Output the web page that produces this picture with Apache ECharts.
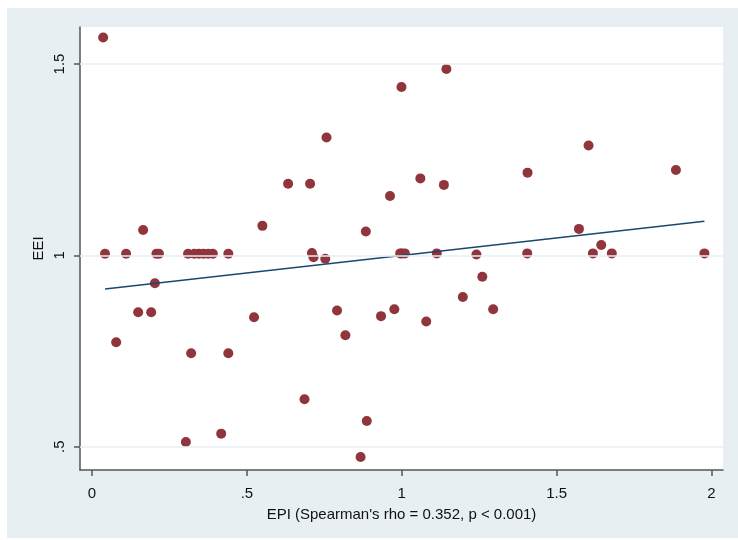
<!DOCTYPE html>
<html>
<head>
<meta charset="utf-8">
<script src="https://cdn.jsdelivr.net/npm/echarts@6/dist/echarts.min.js"></script>
<style>html,body{margin:0;padding:0;background:#fff}#c{width:738px;height:540px}</style>
</head>
<body>
<div id="c"></div>
<script>
// EPI (x) values of each country point
var epi = [0.036, 0.042, 0.078, 0.110, 0.165, 0.149, 0.191, 0.203, 0.208, 0.216,
  0.303, 0.310, 0.320, 0.330, 0.345, 0.360, 0.375, 0.390, 0.417, 0.440, 0.440,
  0.523, 0.550, 0.633, 0.686, 0.704, 0.710, 0.715, 0.753, 0.757, 0.791, 0.818,
  0.867, 0.884, 0.887, 0.933, 0.962, 0.976, 0.995, 1.000, 1.010, 1.060, 1.079,
  1.113, 1.136, 1.144, 1.197, 1.241, 1.260, 1.295, 1.405, 1.406, 1.572, 1.603,
  1.617, 1.644, 1.678, 1.885, 1.977, 0.999];
// EEI (y) values of each country point
var eei = [1.569, 1.004, 0.773, 1.004, 1.066, 0.851, 0.851, 0.927, 1.004, 1.004,
  0.512, 1.004, 0.744, 1.004, 1.004, 1.004, 1.004, 1.004, 0.534, 0.744, 1.004,
  0.838, 1.077, 1.187, 0.624, 1.187, 1.006, 0.995, 0.991, 1.308, 0.856, 0.791,
  0.473, 1.062, 0.567, 0.841, 1.155, 0.859, 1.005, 1.005, 1.005, 1.201, 0.827,
  1.005, 1.184, 1.487, 0.891, 1.002, 0.944, 0.859, 1.005, 1.216, 1.069, 1.287,
  1.005, 1.027, 1.005, 1.223, 1.005, 1.440];
// fitted line end points
var fitX = [0.042, 1.977];
var fitY = [0.912, 1.089];
// axis ticks
var xTicks = [0, 0.5, 1, 1.5, 2];
var yTicks = [0.5, 1, 1.5];
var tickText = {"0": "0", "0.5": ".5", "1": "1", "1.5": "1.5", "2": "2"};
var xTitle = "EPI (Spearman's rho = 0.352, p < 0.001)";
var yTitle = "EEI";

var pts = epi.map(function (x, i) { return [x, eei[i]]; });
var fit = fitX.map(function (x, i) { return [x, fitY[i]]; });
var font = "Liberation Sans";

var chart = echarts.init(document.getElementById('c'), null, {renderer: 'canvas'});
chart.setOption({
  animation: false,
  backgroundColor: '#ffffff',
  graphic: [{
    type: 'rect', z: -10, silent: true,
    shape: {x: 7, y: 8, width: 731, height: 530},
    style: {fill: '#e8eff2'}
  }],
  grid: {left: 80, top: 27, right: 15, bottom: 70, show: true,
    backgroundColor: '#ffffff', borderWidth: 0, containLabel: false},
  xAxis: {
    type: 'value', min: -0.0388, max: 2.037,
    name: xTitle, nameLocation: 'middle', nameGap: 37, nameMoveOverlap: false,
    nameTextStyle: {fontFamily: font, fontSize: 15, color: '#111'},
    axisLine: {show: true, onZero: false, lineStyle: {color: '#555', width: 1.5}},
    axisTick: {show: true, length: 6, customValues: xTicks, lineStyle: {color: '#555', width: 1.5}},
    axisLabel: {customValues: xTicks, margin: 16, fontFamily: font, fontSize: 15, color: '#111',
      formatter: function (v) { return tickText[String(v)]; }},
    splitLine: {show: false}
  },
  yAxis: {
    type: 'value', min: 0.439, max: 1.5966,
    name: yTitle, nameLocation: 'middle', nameGap: 34, nameMoveOverlap: false,
    nameTextStyle: {fontFamily: font, fontSize: 15, color: '#111'},
    axisLine: {show: true, onZero: false, lineStyle: {color: '#555', width: 1.5}},
    axisTick: {show: true, length: 6, customValues: yTicks, lineStyle: {color: '#555', width: 1.5}},
    axisLabel: {customValues: yTicks, rotate: 90, margin: 13, fontFamily: font, fontSize: 15, color: '#111',
      formatter: function (v) { return tickText[String(v)]; }},
    splitLine: {show: false}
  },
  series: [{
    type: 'line', data: yTicks.map(function (v) { return [0, v]; }), showSymbol: false,
    lineStyle: {width: 0}, silent: true,
    markLine: {silent: true, symbol: 'none', label: {show: false},
      lineStyle: {color: '#e6eef2', width: 1.5, type: 'solid'},
      data: yTicks.map(function (v) { return {yAxis: v}; })}
  }, {
    type: 'scatter', data: pts, symbol: 'circle', symbolSize: 10,
    itemStyle: {color: '#90353b', opacity: 1}, z: 3
  }, {
    type: 'line', data: fit, showSymbol: false, symbol: 'none',
    lineStyle: {color: '#1a476f', width: 1.5}, z: 4
  }]
});
</script>
</body>
</html>
